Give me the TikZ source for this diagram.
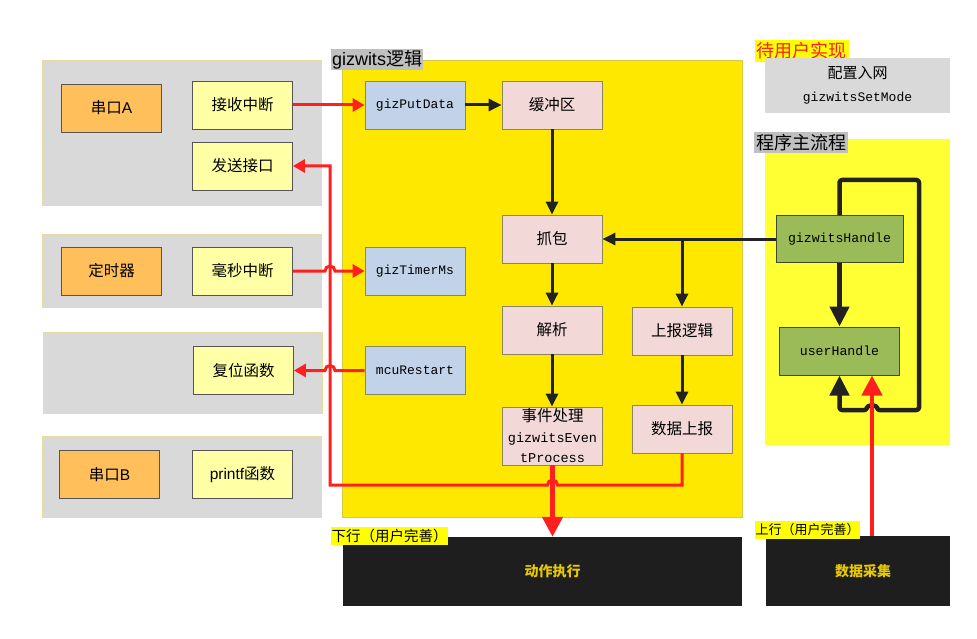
\documentclass[tikz,border=0pt]{standalone}
\usepackage{fontspec}
\setmainfont{Noto Sans CJK SC}
\newfontfamily\cjk{Noto Sans CJK SC}
\newfontfamily\mono{Liberation Mono}
\newfontfamily\arial{Liberation Sans}
\usetikzlibrary{arrows.meta}
\definecolor{grayP}{HTML}{D9D9D9}
\definecolor{panelb}{HTML}{E8DDA0}
\definecolor{orangeB}{HTML}{FFC05B}
\definecolor{lyel}{HTML}{FFFFA5}
\definecolor{bluB}{HTML}{C2D3E9}
\definecolor{pinkB}{HTML}{F2D8D6}
\definecolor{yelM}{HTML}{FFE800}
\definecolor{yelMb}{HTML}{D8C84A}
\definecolor{yelR}{HTML}{FFFF33}
\definecolor{greenB}{HTML}{9BBB59}
\definecolor{grnd}{HTML}{3C4A28}
\definecolor{blackB}{HTML}{1E1E1E}
\definecolor{bord}{HTML}{555555}
\definecolor{olv}{HTML}{8C8660}
\definecolor{redc}{HTML}{FF1F1F}
\definecolor{dark}{HTML}{222222}
\definecolor{lblgray}{HTML}{C0C0C0}
\definecolor{hiyel}{HTML}{FFFF00}
\definecolor{gold}{HTML}{E8C800}
\tikzset{
  bx/.style={rectangle, minimum width=100pt, minimum height=48pt, inner sep=0pt, line width=0.8pt, font=\fontsize{15.5}{18}\selectfont},
  orb/.style={bx, fill=orangeB, draw=bord},
  lyb/.style={bx, fill=lyel, draw=bord},
  blb/.style={bx, fill=bluB, draw=olv, font=\mono\fontsize{13}{15}\selectfont},
  pkb/.style={bx, fill=pinkB, draw=olv},
  grb/.style={bx, fill=greenB, draw=grnd, line width=1pt, font=\mono\fontsize{13.2}{15}\selectfont},
  panel/.style={fill=grayP, draw=panelb, line width=0.6pt},
  lbl/.style={inner sep=0pt, anchor=center},
  blk/.style={rectangle, fill=blackB, inner sep=0pt, text=gold, font=\fontsize{14}{16}\selectfont\bfseries},
  redl/.style={draw=redc, line width=3pt},
  redarr/.style={redl, -{Triangle[length=12pt,width=13pt]}},
  redbig/.style={draw=redc, line width=4.5pt, -{Triangle[length=20pt,width=20pt]}},
  blkarr/.style={draw=dark, line width=3pt, -{Triangle[length=13pt,width=12pt]}},
  blkbig/.style={draw=dark, line width=4.5pt, line join=round, -{Triangle[length=20pt,width=19pt]}},
}
\begin{document}
\begin{tikzpicture}[x=1pt,y=1pt]
\useasboundingbox[fill=white] (0,0) rectangle (977,-639);
% panels
\draw[panel] (42,-60) rectangle (321,-205);
\draw[panel] (42,-234) rectangle (321,-307);
\draw[panel] (43,-332) rectangle (322,-413);
\draw[panel] (42,-436) rectangle (321,-517);
\draw[fill=yelM, draw=yelMb, line width=0.6pt] (342,-60) rectangle (742,-517);
\fill[yelR] (765,-139) rectangle (950,-445);
% labels
\node[lbl, fill=lblgray, minimum width=92pt, minimum height=21pt, font=\fontsize{18}{20}\selectfont] (lg) at (377,-60) {{\arial gizwits}逻辑};
\node[lbl, fill=hiyel, minimum width=94pt, minimum height=22pt, text=redc, font=\fontsize{18}{20}\selectfont] (lu) at (801.5,-51) {待用户实现};
\node[lbl, fill=grayP, minimum width=185pt, minimum height=55pt, align=center, font=\fontsize{15}{23}\selectfont] (cfg) at (857.5,-85.5) {配置入网\\{\mono\fontsize{13}{23}\selectfont gizwitsSetMode}};
\node[lbl, fill=lblgray, minimum width=94pt, minimum height=21pt, font=\fontsize{18}{20}\selectfont] (lm) at (801,-142.5) {程序主流程};
% left boxes
\node[orb] (ua) at (111.5,-108) {串口{\arial A}};
\node[lyb] (recv) at (242.5,-105) {接收中断};
\node[lyb] (send) at (242.5,-166) {发送接口};
\node[orb] (tmr) at (111.5,-271) {定时器};
\node[lyb] (ms) at (242.5,-271) {毫秒中断};
\node[lyb] (fw) at (243.5,-370.5) {复位函数};
\node[orb] (ub) at (109.5,-474.5) {串口{\arial B}};
\node[lyb] (pf) at (242.5,-474.5) {{\arial printf}函数};
% middle boxes
\node[blb] (put) at (415,-105) {gizPutData};
\node[pkb] (buf) at (552,-105) {缓冲区};
\node[pkb] (grab) at (552,-239) {抓包};
\node[blb] (gtm) at (415,-271) {gizTimerMs};
\node[blb] (mcu) at (415,-370.5) {mcuRestart};
\node[pkb] (parse) at (552,-330) {解析};
\node[pkb] (rlog) at (682,-331) {上报逻辑};
\node[pkb, minimum height=58pt, align=center, font=\mono\fontsize{13.5}{20.5}\selectfont] (evt) at (552.5,-436) {{\cjk\fontsize{15.5}{20.5}\selectfont 事件处理}\\gizwitsEven\\tProcess};
\node[pkb] (rep) at (682,-429) {数据上报};
% right boxes
\node[grb, minimum width=127pt, minimum height=47pt] (hand) at (839.5,-239) {gizwitsHandle};
\node[grb, minimum width=120pt, minimum height=48pt] (user) at (839.5,-351) {userHandle};
% black boxes
\node[blk, minimum width=399pt, minimum height=69pt] (act) at (542.5,-571.5) {\hspace{20pt}动作执行};
\node[blk, minimum width=184pt, minimum height=70pt] (col) at (858,-571) {\hspace{10pt}数据采集};
\node[lbl, fill=hiyel, minimum width=117pt, minimum height=18pt, font=\fontsize{14.5}{16}\selectfont] (down) at (389.5,-536) {下行（用户完善）};
\node[lbl, fill=hiyel, minimum width=105pt, minimum height=18pt, font=\fontsize{13}{15}\selectfont] (up) at (807.5,-530) {上行（用户完善）};
% black connectors
\draw[blkarr] (put) -- (buf);
\draw[blkarr] (buf) -- (grab);
\draw[blkarr] (grab) -- (parse);
\draw[blkarr] (parse.south) -- (parse.south |- evt.north);
\draw[blkarr] (hand.west) -- (grab.east);
\coordinate (br) at (rlog.north |- hand.west);
\draw[blkarr] (br) -- (rlog.north);
\draw[blkarr] (rlog) -- (rep);
\draw[blkbig] (hand) -- (user);
\draw[blkbig, rounded corners=2.5pt] (hand.north) -- (839.5,-180) -- (919,-180) -- (919,-410) -- (877,-410) arc[start angle=0,end angle=180,radius=5pt] -- (839.5,-410) -- (user.south);
% red connectors
\draw[redarr] (recv) -- (put);
\draw[redarr] (ms.east) -- (325,-271) arc[start angle=180,end angle=0,radius=5pt] -- (gtm.west);
\draw[redarr] (mcu.west) -- (335,-370.5) arc[start angle=0,end angle=180,radius=5pt] -- (fw.east);
\draw[redarr] (rep.south) -- (682,-485) -- (557.5,-485) arc[start angle=0,end angle=180,radius=5pt] -- (330,-485) -- (330,-166) -- (send.east);
\draw[redbig] (evt.south) -- (evt.south |- act.north);
\coordinate (us) at (872,-536);
\draw[redbig] (us) -- (us |- user.south);
\end{tikzpicture}
\end{document}
